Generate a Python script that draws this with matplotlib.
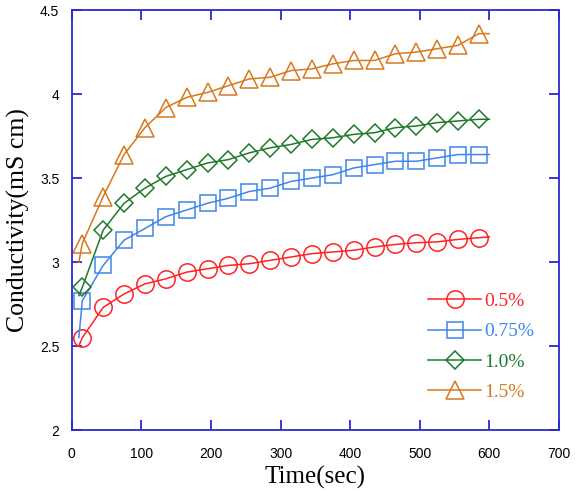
#!/usr/bin/env python3
"""Conductivity vs time for four concentrations."""

import matplotlib
matplotlib.use('Agg')
import matplotlib.pyplot as plt

# marker times (sec) and line endpoints
times = [10, 15, 45, 75, 105, 135, 165, 195, 225, 255, 285, 315, 345,
         375, 405, 435, 465, 495, 525, 555, 585, 600]

labels = ['0.5%', '0.75%', '1.0%', '1.5%']

cond_05 = [2.50, 2.55, 2.73, 2.81, 2.87, 2.90, 2.94, 2.96, 2.98, 2.99, 3.01,
           3.03, 3.05, 3.06, 3.07, 3.09, 3.105, 3.115, 3.12, 3.135, 3.145, 3.15]
cond_075 = [2.55, 2.77, 2.98, 3.13, 3.20, 3.27, 3.31, 3.35, 3.38, 3.42, 3.44,
            3.48, 3.50, 3.52, 3.56, 3.58, 3.60, 3.60, 3.62, 3.64, 3.64, 3.64]
cond_10 = [2.80, 2.85, 3.19, 3.35, 3.44, 3.51, 3.55, 3.59, 3.61, 3.65, 3.68,
           3.70, 3.73, 3.74, 3.76, 3.77, 3.80, 3.81, 3.83, 3.84, 3.85, 3.85]
cond_15 = [3.00, 3.11, 3.39, 3.64, 3.80, 3.92, 3.98, 4.01, 4.05, 4.09, 4.10,
           4.14, 4.15, 4.18, 4.20, 4.20, 4.24, 4.25, 4.27, 4.29, 4.36, 4.36]

series = [cond_05, cond_075, cond_10, cond_15]
colors = ['#ff2222', '#3f86ea', '#1e7a2a', '#d8781c']
markers = ['o', 's', 'D', '^']
msizes = [12.5, 11.5, 9.5, 12.5]

fig = plt.figure(figsize=(5.75, 4.9), dpi=100)
ax = fig.add_axes([0.125, 0.1224, 0.847, 0.857])

for vals, c, m, ms, lab in zip(series, colors, markers, msizes, labels):
    ax.plot(times, vals, color=c, linewidth=1.1, marker=m, markersize=ms,
            markerfacecolor='none', markeredgecolor=c, markeredgewidth=1.1,
            markevery=list(range(1, len(times) - 1)), label=lab)

ax.set_xlim(0, 700)
ax.set_ylim(2, 4.5)
ax.set_xticks(range(0, 701, 100))
ax.set_yticks([2, 2.5, 3, 3.5, 4, 4.5])
ax.set_yticklabels(['2', '2.5', '3', '3.5', '4', '4.5'])

spine_col = '#2a2ad0'
for s in ax.spines.values():
    s.set_color(spine_col)
    s.set_linewidth(1.3)
ax.tick_params(direction='in', length=7, width=1.3, color=spine_col,
               top=True, right=True, labelsize=10)
ax.tick_params(axis='x', pad=12)
ax.tick_params(axis='y', pad=9)
for t in ax.get_xticklabels() + ax.get_yticklabels():
    t.set_fontfamily('Liberation Sans')

ax.set_xlabel('Time(sec)', fontfamily='Liberation Serif', fontsize=18, labelpad=4)
ax.set_ylabel('Conductivity(mS cm)', fontfamily='Liberation Serif', fontsize=18.5,
              labelpad=7)

leg = ax.legend(loc='lower left', bbox_to_anchor=(0.712, 0.046), frameon=False,
                handlelength=2.7, handletextpad=0.15, labelspacing=0.65,
                borderpad=0, prop={'family': 'Liberation Serif', 'size': 14})
for txt, c in zip(leg.get_texts(), colors):
    txt.set_color(c)

plt.savefig('out.png', dpi=100)
plt.close(fig)
